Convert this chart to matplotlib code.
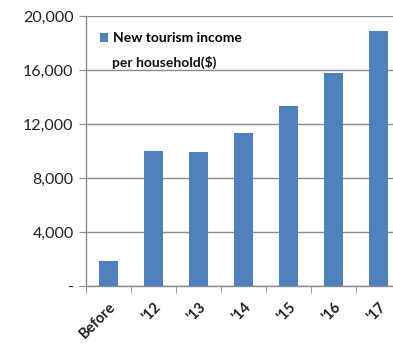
import matplotlib.pyplot as plt
import numpy as np

# values
years = ['Before', "'12", "'13", "'14", "'15", "'16", "'17"]
income = [1850, 10000, 9900, 11350, 13350, 15800, 18850]
yticks = [0, 4000, 8000, 12000, 16000, 20000]
ytick_labels = ['-', '4,000', '8,000', '12,000', '16,000', '20,000']

plt.rcParams['font.family'] = ['Lato', 'DejaVu Sans']

fig = plt.figure(figsize=(3.93, 3.54), dpi=100)
ax = fig.add_axes([0.219, 0.192, 0.802, 0.763])

x = np.arange(len(years))
ax.bar(x, income, width=0.42, color='#4F81BD', zorder=3, label='New tourism income')

ax.set_xlim(-0.5, len(years) - 0.5)
ax.set_ylim(0, 20000)

ax.set_yticks(yticks)
ax.set_yticklabels(ytick_labels, fontsize=11.5, color='#222222')
ax.yaxis.grid(True, color='#8c8c8c', lw=1, zorder=0)
ax.tick_params(axis='y', length=5, color='#8c8c8c', pad=4)

ax.set_xticks(x)
ax.set_xticklabels(years, rotation=45, ha='right', rotation_mode='anchor',
                   fontsize=10.5, fontweight='bold', color='#222222')
ax.tick_params(axis='x', which='major', length=0, pad=10)
ax.set_xticks(np.arange(len(years) + 1) - 0.5, minor=True)
ax.tick_params(axis='x', which='minor', length=5, color='#8c8c8c')

for s in ['top', 'right']:
    ax.spines[s].set_visible(False)
for s in ['left', 'bottom']:
    ax.spines[s].set_color('#8c8c8c')
    ax.spines[s].set_linewidth(1)

leg = ax.legend(loc='upper left', bbox_to_anchor=(0.004, 0.985), frameon=False,
                handlelength=0.6, handleheight=0.6, handletextpad=0.35,
                prop={'weight': 'bold', 'size': 10})
ax.text(0.083, 0.826, 'per household($)', transform=ax.transAxes,
        fontsize=10, fontweight='bold', color='#111111', va='center')

fig.savefig('out.png', dpi=100)
